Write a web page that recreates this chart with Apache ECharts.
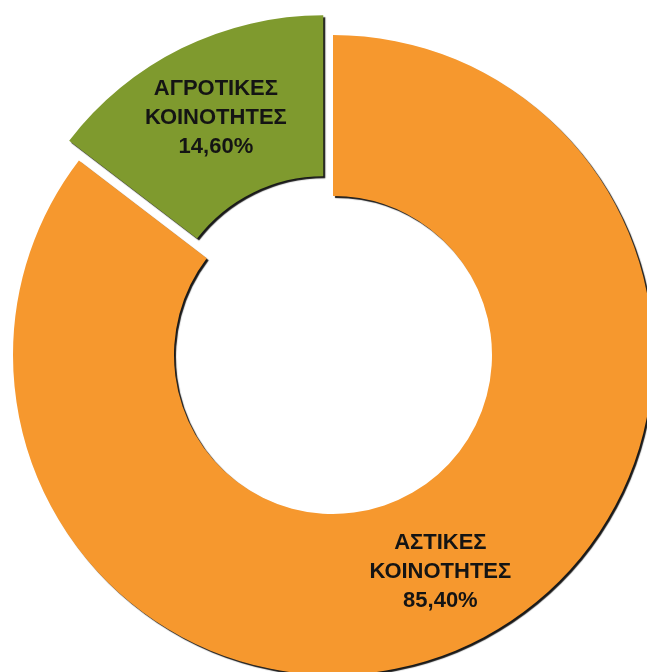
<!DOCTYPE html>
<html>
<head>
<meta charset="utf-8">
<script src="https://cdn.jsdelivr.net/npm/echarts@6/dist/echarts.min.js"></script>
<style>
html,body{margin:0;padding:0;background:#ffffff;}
#chart{width:647px;height:672px;}
</style>
</head>
<body>
<div id="chart"></div>
<script>
const categories = ['ΑΣΤΙΚΕΣ\nΚΟΙΝΟΤΗΤΕΣ', 'ΑΓΡΟΤΙΚΕΣ\nΚΟΙΝΟΤΗΤΕΣ'];
const values = [85.40, 14.60];
const valueLabels = ['85,40%', '14,60%'];
const colors = ['#f6982e', '#7f9a2e'];
const exploded = [false, true];

const chart = echarts.init(document.getElementById('chart'), null, {renderer: 'canvas'});
chart.setOption({
  backgroundColor: '#ffffff',
  animation: false,
  series: [{
    type: 'pie',
    center: [333, 355],
    radius: [159, 320],
    startAngle: 90,
    clockwise: true,
    selectedMode: 'multiple',
    selectedOffset: 22,
    avoidLabelOverlap: false,
    emphasis: {disabled: true},
    label: {
      show: true,
      position: 'inside',
      fontFamily: 'Liberation Sans, Arial, sans-serif',
      fontWeight: 'bold',
      fontSize: 22,
      lineHeight: 29,
      color: '#141414',
      align: 'center',
      formatter: function (p) { return p.name + '\n' + valueLabels[p.dataIndex]; }
    },
    labelLine: {show: false},
    itemStyle: {
      borderWidth: 0,
      shadowColor: 'rgba(0,0,0,0.9)',
      shadowBlur: 1,
      shadowOffsetX: 2,
      shadowOffsetY: 2
    },
    data: categories.map((c, i) => ({
      name: c,
      value: values[i],
      selected: exploded[i],
      itemStyle: {color: colors[i]}
    }))
  }]
});
</script>
</body>
</html>
